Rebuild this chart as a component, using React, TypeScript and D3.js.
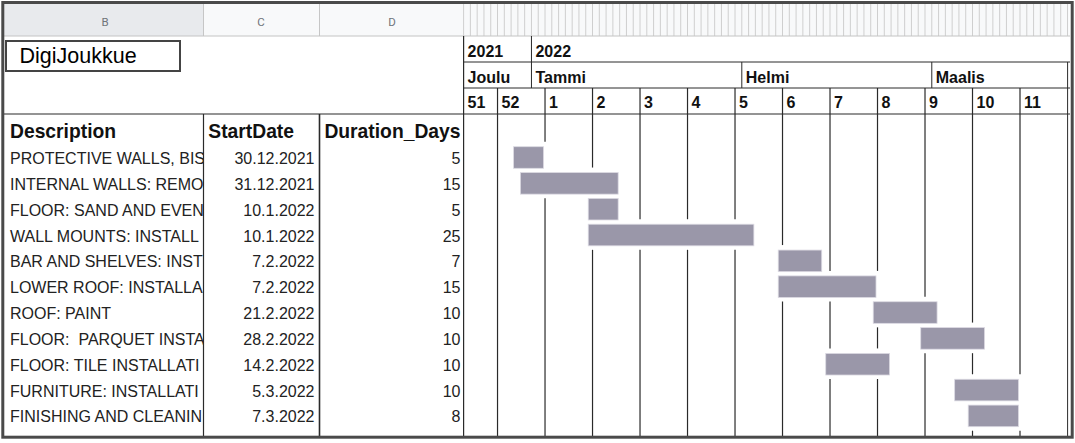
import React from "react";
import * as d3 from "d3";

// ---------- data ----------
const descriptions = [
  "PROTECTIVE WALLS, BIS",
  "INTERNAL WALLS: REMO",
  "FLOOR: SAND AND EVEN",
  "WALL MOUNTS: INSTALL",
  "BAR AND SHELVES: INST",
  "LOWER ROOF: INSTALLA",
  "ROOF: PAINT",
  "FLOOR:  PARQUET INSTA",
  "FLOOR: TILE INSTALLATI",
  "FURNITURE: INSTALLATI",
  "FINISHING AND CLEANIN",
];
const startDates = [
  "30.12.2021",
  "31.12.2021",
  "10.1.2022",
  "10.1.2022",
  "7.2.2022",
  "7.2.2022",
  "21.2.2022",
  "28.2.2022",
  "14.2.2022",
  "5.3.2022",
  "7.3.2022",
];
const durations = [5, 15, 5, 25, 7, 15, 10, 10, 10, 10, 8];

const yearLabels = ["2021", "2022"];
const yearStarts = ["22.12.2021", "1.1.2022"];
const monthLabels = ["Joulu", "Tammi", "Helmi", "Maalis"];
const monthStarts = ["22.12.2021", "1.1.2022", "1.2.2022", "1.3.2022"];
const weekLabels = ["51", "52", "1", "2", "3", "4", "5", "6", "7", "8", "9", "10", "11"];
const columnLetters = ["B", "C", "D"];
const headerLabels = ["Description", "StartDate", "Duration_Days"];
const timelineStart = "22.12.2021";
const timelineEnd = "21.3.2022";
const title = "DigiJoukkue";

// ---------- helpers ----------
const parse = (s: string) => {
  const [d, m, y] = s.split(".").map(Number);
  return new Date(Date.UTC(y, m - 1, d));
};
const DAY = 86400000;
const FONT = "'Liberation Sans', Arial, sans-serif";

export default function App() {
  const W = 1075;
  const H = 443;
  const t0 = parse(timelineStart);
  const t1 = parse(timelineEnd);
  const x = d3.scaleUtc().domain([t0, t1]).range([463.6, 1067.5]);
  const y = d3
    .scaleBand<number>()
    .domain(d3.range(descriptions.length))
    .range([144.6, 144.6 + descriptions.length * 25.84]);

  const days = d3.utcDay.range(t0, new Date(+t1 + DAY));
  const mondays = d3.utcMonday.range(t0, t1);
  const weekStarts = [t0, ...mondays];

  const tasks = descriptions.map((desc, i) => {
    const s = parse(startDates[i]);
    const n = durations[i];
    const a = new Date(+s - DAY);
    const b = new Date(+s + (n - 1) * DAY);
    const top = (y(i) as number) + 2.1;
    return { desc, s, n, a, b, top, bottom: top + 21.6, i };
  });

  const gridTop = 114;
  const gridBottom = 437;

  // week line segments with gaps where bars touch
  const weekSegments: { x: number; y1: number; y2: number }[] = [];
  mondays.forEach((m) => {
    const gaps = tasks
      .filter((t) => +m >= +t.a && +m <= +t.b)
      .map((t) => [t.top - 5, t.bottom + 4])
      .sort((p, q) => p[0] - q[0]);
    const merged: number[][] = [];
    gaps.forEach((g) => {
      const last = merged[merged.length - 1];
      if (last && g[0] <= last[1]) last[1] = Math.max(last[1], g[1]);
      else merged.push([...g]);
    });
    let cur = 88;
    merged.forEach((g) => {
      weekSegments.push({ x: x(m), y1: cur, y2: g[0] });
      cur = g[1];
    });
    weekSegments.push({ x: x(m), y1: cur, y2: gridBottom });
  });

  const lineColor = "#2a2a2a";

  return (
    <svg
      width={W}
      height={H}
      style={{ position: "absolute", left: 0, top: 0, background: "#fff" }}
      fontFamily={FONT}
    >
      <defs>
        <clipPath id="clipB">
          <rect x={4} y={114} width={199} height={323} />
        </clipPath>
      </defs>
      <rect x={0} y={0} width={W} height={H} fill="#fff" />

      {/* column header strip */}
      <rect x={4} y={4} width={199.5} height={32} fill="#e8eaed" />
      <rect x={203.5} y={4} width={866} height={32} fill="#f8f9fa" />
      {days.map((d, i) => (
        <line key={"dl" + i} x1={x(d)} x2={x(d)} y1={4} y2={36} stroke="#cfcfcf" strokeWidth={1} />
      ))}
      {[203.5, 319.5].map((v, i) => (
        <line key={"hs" + i} x1={v} x2={v} y1={4} y2={36} stroke="#c6c6c6" strokeWidth={1} />
      ))}
      <line x1={4} x2={1070} y1={36} y2={36} stroke="#c4c4c4" strokeWidth={1} />
      {columnLetters.map((c, i) => (
        <text
          key={c}
          x={[105, 261, 392][i]}
          y={26}
          textAnchor="middle"
          fontSize={11.5}
          fill="#70757a"
          fontFamily="Roboto, Arial, sans-serif"
        >
          {c}
        </text>
      ))}

      {/* title box */}
      <rect x={6} y={41} width={174} height={30} fill="#fff" stroke="#444" strokeWidth={2} />
      <text x={19.5} y={63.3} fontSize={21.5} fill="#000">
        {title}
      </text>

      {/* timeline header */}
      <line x1={463.6} x2={1070} y1={62} y2={62} stroke={lineColor} strokeWidth={1} />
      <line x1={463.6} x2={1070} y1={88} y2={88} stroke={lineColor} strokeWidth={1} />
      <line x1={4} x2={1070} y1={114} y2={114} stroke={lineColor} strokeWidth={1.2} />
      {yearStarts.map((s, i) => {
        const xv = x(parse(s));
        return (
          <g key={"y" + i}>
            {i > 0 && <line x1={xv} x2={xv} y1={36} y2={62} stroke={lineColor} strokeWidth={1} />}
            <text x={xv + 4} y={57} fontSize={16} fontWeight="bold" fill="#111">
              {yearLabels[i]}
            </text>
          </g>
        );
      })}
      {monthStarts.map((s, i) => {
        const xv = x(parse(s));
        return (
          <g key={"m" + i}>
            {i > 0 && <line x1={xv} x2={xv} y1={62} y2={88} stroke={lineColor} strokeWidth={1} />}
            <text x={xv + 4} y={83} fontSize={16} fontWeight="bold" fill="#111">
              {monthLabels[i]}
            </text>
          </g>
        );
      })}
      {weekStarts.map((s, i) => (
        <text key={"w" + i} x={x(s) + 4} y={107.5} fontSize={16} fontWeight="bold" fill="#111">
          {weekLabels[i]}
        </text>
      ))}

      {/* week grid lines */}
      {weekSegments.map((sg, i) => (
        <line key={"ws" + i} x1={sg.x} x2={sg.x} y1={sg.y1} y2={sg.y2} stroke={lineColor} strokeWidth={1.2} />
      ))}

      {/* table vertical lines */}
      <line x1={203.5} x2={203.5} y1={gridTop} y2={gridBottom} stroke={lineColor} strokeWidth={1.2} />
      <line x1={319.5} x2={319.5} y1={gridTop} y2={gridBottom} stroke={lineColor} strokeWidth={1.6} />
      <line x1={463.6} x2={463.6} y1={36} y2={gridBottom} stroke={lineColor} strokeWidth={1.2} />
      <line x1={1067.6} x2={1067.6} y1={62} y2={gridBottom} stroke={lineColor} strokeWidth={1} />

      {/* bars */}
      {tasks.map((t) => (
        <rect
          key={"b" + t.i}
          x={x(t.a) + 2.5}
          y={t.top}
          width={x(t.b) - 1.5 - (x(t.a) + 2.5)}
          height={t.bottom - t.top}
          fill="#9a97a9"
          stroke="#dcdae3"
          strokeWidth={0.8}
        />
      ))}

      {/* table headers */}
      <text x={10} y={137.6} fontSize={19.3} fontWeight="bold" fill="#111">
        {headerLabels[0]}
      </text>
      <text x={208.3} y={137.6} fontSize={19.3} fontWeight="bold" fill="#111">
        {headerLabels[1]}
      </text>
      <text x={460.5} y={137.6} fontSize={19.3} fontWeight="bold" fill="#111" textAnchor="end">
        {headerLabels[2]}
      </text>

      {/* table rows */}
      {tasks.map((t) => {
        const by = (y(t.i) as number) + 19.4;
        return (
          <g key={"r" + t.i} fontSize={16} fill="#222">
            <text x={10} y={by} clipPath="url(#clipB)" style={{ whiteSpace: "pre" }}>
              {t.desc}
            </text>
            <text x={314.5} y={by} textAnchor="end">
              {startDates[t.i]}
            </text>
            <text x={460.5} y={by} textAnchor="end">
              {durations[t.i]}
            </text>
          </g>
        );
      })}

      {/* outer frame */}
      <rect x={2.8} y={2.5} width={1069.4} height={434.7} fill="none" stroke="#4a4a4a" strokeWidth={3} />
    </svg>
  );
}
